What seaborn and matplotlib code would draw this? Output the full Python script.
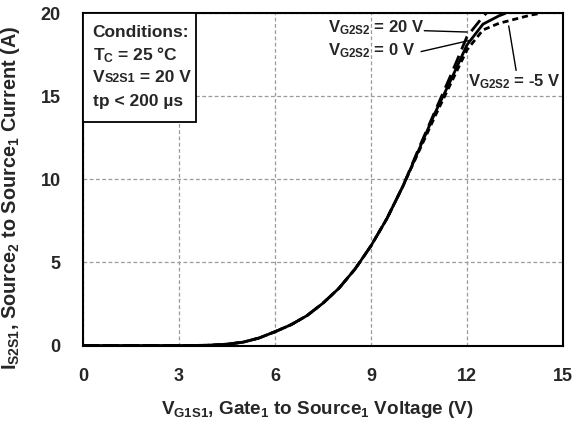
import numpy as np
import pandas as pd
import matplotlib
matplotlib.use("Agg")
import matplotlib.pyplot as plt
from matplotlib.patches import Rectangle
from matplotlib.offsetbox import TextArea, HPacker, AnnotationBbox
import seaborn as sns

# ---- data ----
vgs_0v = [0, 3.0, 3.5, 4.0, 4.5, 5.0, 5.5, 6.0, 6.5, 7.0, 7.5, 8.0, 8.5, 9.0,
          9.5, 10.0, 10.5, 11.0, 11.5, 12.0, 12.5, 13.0, 13.2]
id_0v = [0, 0, 0.005, 0.02, 0.08, 0.2, 0.45, 0.83, 1.25, 1.8, 2.55, 3.45, 4.6, 6.0,
         7.65, 9.6, 11.8, 14.0, 16.0, 18.1, 19.35, 19.85, 20.0]

vgs_20v = [0, 3.0, 3.5, 4.0, 4.5, 5.0, 5.5, 6.0, 6.5, 7.0, 7.5, 8.0, 8.5, 9.0,
           9.5, 10.0, 10.5, 11.0, 11.5, 12.0, 12.5, 12.8]
id_20v = [0, 0, 0.005, 0.02, 0.08, 0.2, 0.45, 0.83, 1.25, 1.8, 2.55, 3.45, 4.6, 6.0,
          7.65, 9.6, 11.9, 14.1, 16.3, 18.6, 19.8, 20.4]

vgs_m5v = [0, 3.0, 3.5, 4.0, 4.5, 5.0, 5.5, 6.0, 6.5, 7.0, 7.5, 8.0, 8.5, 9.0,
           9.5, 10.0, 10.5, 11.0, 11.5, 12.0, 12.5, 13.0, 13.5, 14.0, 14.3]
id_m5v = [0, 0, 0.005, 0.02, 0.08, 0.2, 0.45, 0.83, 1.25, 1.8, 2.55, 3.45, 4.6, 6.0,
          7.65, 9.6, 11.7, 13.8, 15.8, 17.8, 19.0, 19.4, 19.65, 19.9, 20.0]

series_names = ["20 V", "0 V", "-5 V"]
x_ticks = [0, 3, 6, 9, 12, 15]
y_ticks = [0, 5, 10, 15, 20]

df = pd.concat([
    pd.DataFrame({"vgs": vgs_20v, "id": id_20v, "VG2S2": series_names[0]}),
    pd.DataFrame({"vgs": vgs_0v, "id": id_0v, "VG2S2": series_names[1]}),
    pd.DataFrame({"vgs": vgs_m5v, "id": id_m5v, "VG2S2": series_names[2]}),
], ignore_index=True)

sns.set_style("white")
plt.rcParams["font.family"] = ["Liberation Sans", "DejaVu Sans"]
plt.rcParams["font.weight"] = "bold"
plt.rcParams["mathtext.fontset"] = "custom"
plt.rcParams["mathtext.rm"] = "Liberation Sans:bold"
plt.rcParams["mathtext.it"] = "Liberation Sans:bold"
plt.rcParams["mathtext.bf"] = "Liberation Sans:bold"

fig = plt.figure(figsize=(5.82, 4.21), dpi=100)
ax = fig.add_axes([0.1426, 0.1793, 0.8247, 0.789])

sns.lineplot(data=df, x="vgs", y="id", hue="VG2S2", style="VG2S2",
             palette={n: "black" for n in series_names},
             dashes={"20 V": (5, 2.5), "0 V": "", "-5 V": (2.2, 1.4)},
             sort=False, estimator=None, linewidth=2.0, legend=False, ax=ax)

ax.set_xlim(0, 15)
ax.set_ylim(0, 20)
ax.set_xticks(x_ticks)
ax.set_yticks(y_ticks)
ax.tick_params(length=0, labelsize=13, pad=16)
for lab in ax.get_xticklabels() + ax.get_yticklabels():
    lab.set_fontweight("bold")

ax.grid(True, linestyle=(0, (3, 2)), color="#9a9a9a", linewidth=0.9)
for sp in ax.spines.values():
    sp.set_color("black")
    sp.set_linewidth(1.5)

ax.set_xlabel(r"$V_{G1S1}$, Gate$_{1}$ to Source$_{1}$ Voltage (V)",
              fontsize=13.6, fontweight="bold", labelpad=8)
ax.xaxis.set_label_coords(0.487, -0.16)
ax.set_ylabel(r"$I_{S2S1}$, Source$_{2}$ to Source$_{1}$ Current (A)",
              fontsize=14.3, fontweight="bold")
ax.yaxis.set_label_coords(-0.128, 0.445)

# conditions box
ax.add_patch(Rectangle((0, 0.673), 0.235, 0.327, transform=ax.transAxes,
                       fc="white", ec="black", lw=1.3, zorder=5))
fs = 12.5
tx = 0.3
ax.text(tx, 18.82, "Conditions:", fontsize=fs, fontweight="bold",
        ha="left", va="center", zorder=6)
ax.text(tx, 17.5, "$T_{C}$ = 25 °C", fontsize=fs, fontweight="bold",
        ha="left", va="center", zorder=6)
vs_box = HPacker(children=[
    TextArea("V", textprops=dict(fontsize=fs, fontweight="bold")),
    TextArea("S2S1", textprops=dict(fontsize=9, fontweight="bold")),
    TextArea(" = 20 V", textprops=dict(fontsize=fs, fontweight="bold")),
], align="baseline", pad=0, sep=0)
ab = AnnotationBbox(vs_box, (tx, 16.11), xycoords="data",
                    box_alignment=(0, 0.5), frameon=False, pad=0, zorder=6)
ax.add_artist(ab)
ax.text(tx, 14.67, "tp < 200 µs", fontsize=fs, fontweight="bold",
        ha="left", va="center", zorder=6)

# annotations
ax.text(7.66, 19.15, r"$V_{G2S2}$ = 20 V", fontsize=12, fontweight="bold",
        ha="left", va="center")
ax.annotate("", xy=(12.09, 18.87), xytext=(10.58, 18.96),
            arrowprops=dict(arrowstyle="-", color="black", lw=1.0))
ax.text(7.66, 17.75, r"$V_{G2S2}$ = 0 V", fontsize=12, fontweight="bold",
        ha="left", va="center")
ax.annotate("", xy=(12.15, 18.4), xytext=(10.48, 17.66),
            arrowprops=dict(arrowstyle="-", color="black", lw=1.0))
ax.text(12.03, 15.9, r"$V_{G2S2}$ = -5 V", fontsize=12, fontweight="bold",
        ha="left", va="center")
ax.annotate("", xy=(13.29, 19.41), xytext=(13.55, 16.4),
            arrowprops=dict(arrowstyle="-", color="black", lw=1.0))

fig.savefig("out.png", dpi=100)
